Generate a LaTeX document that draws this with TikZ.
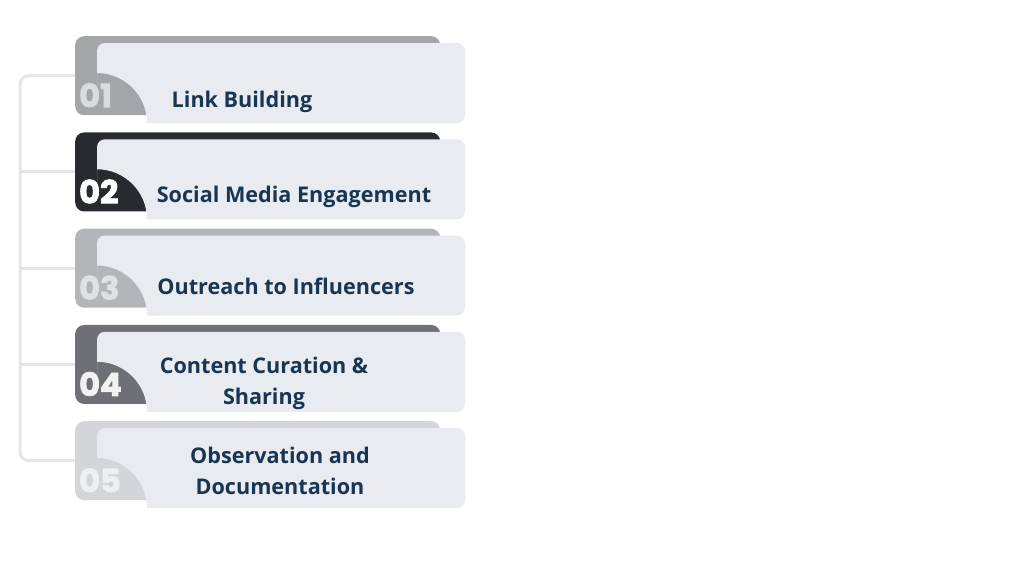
\documentclass[tikz,border=0pt]{standalone}
\usepackage{fontspec}
\setmainfont{Open Sans}
\newfontfamily\numfont[BoldFeatures={FakeBold=2.5}]{Poppins}
\usepackage{tikz}
\usetikzlibrary{positioning}
\definecolor{front}{HTML}{E8EBEF}
\definecolor{navy}{HTML}{183553}
\definecolor{railgrey}{HTML}{E4E6E9}
\definecolor{tabA}{HTML}{A3A5A9}
\definecolor{tabB}{HTML}{272B2F}
\definecolor{tabC}{HTML}{B3B5B9}
\definecolor{tabD}{HTML}{6E7075}
\definecolor{tabE}{HTML}{D3D5D8}
\definecolor{numA}{HTML}{DADBDE}
\definecolor{numB}{HTML}{FFFFFF}
\definecolor{numC}{HTML}{E0E1E3}
\definecolor{numD}{HTML}{F2F2F3}
\definecolor{numE}{HTML}{EEEFF1}
\tikzstyle{tab} = [rectangle, rounded corners=9pt, minimum width=365pt, minimum height=79pt, inner sep=0pt, anchor=north west]
\tikzstyle{num} = [inner sep=0pt, anchor=south west, font=\numfont\bfseries\fontsize{32}{32}\selectfont]
\tikzstyle{stagetext} = [inner sep=0pt, text=navy, align=center, font=\bfseries\fontsize{21.6}{31}\selectfont]
\tikzstyle{rail} = [draw=railgrey, line width=3pt]

\begin{document}
\begin{tikzpicture}[x=1pt, y=-1pt]
\useasboundingbox (0,0) rectangle (1024,576);

% stages =============================
\foreach \i/\col/\ncol/\lx/\ly/\txt in {
  1/tabA/numA/242/102/{Link Building},
  2/tabB/numB/294/197/{Social Media Engagement},
  3/tabC/numC/286/286/{Outreach to Influencers},
  4/tabD/numD/264/383/{Content Curation \&\\ Sharing},
  5/tabE/numE/280/471/{Observation and\\ Documentation}} {
  \pgfmathsetmacro{\t}{36+(\i-1)*96.25}
  \node[tab, fill=\col] (tab\i) at (75,\t) {};
  \fill[front, rounded corners=8pt] (97,\t+57) -- (97,\t+7) -- (465,\t+7) -- (465,\t+87) [sharp corners] -- (147,\t+87) arc[start angle=0, end angle=90, radius=50pt] -- cycle;
  \node[num, text=\ncol, above right=8pt and 4pt of tab\i.south west] (num\i) {0\i};
  \node[stagetext] (txt\i) at (\lx,\ly) {\txt};
}

% rail
\coordinate (rail) at (20,0);
\draw[rail, rounded corners=9pt] (tab1.west) -- (tab1.west -| rail) -- (tab5.west -| rail) -- (tab5.west);
\foreach \i in {2,3,4}
  \draw[rail] (tab\i.west -| rail) -- (tab\i.west);

\end{tikzpicture}
\end{document}
